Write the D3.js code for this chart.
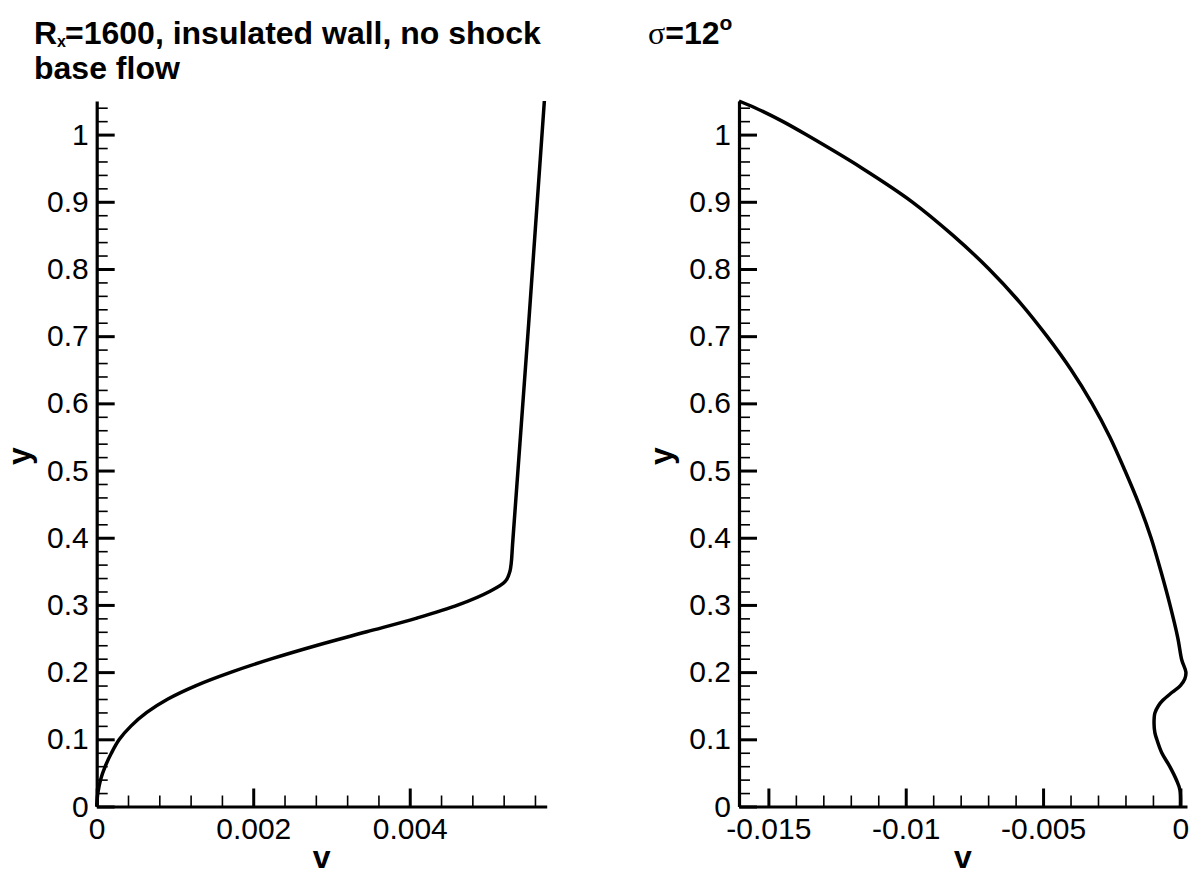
<!DOCTYPE html>
<html>
<head>
<meta charset="utf-8">
<script src="https://cdn.jsdelivr.net/npm/d3@7"></script>
<style>
  html, body { margin: 0; padding: 0; background: #fff; }
  svg { display: block; }
  text { font-family: "Liberation Sans", Arial, Helvetica, sans-serif; fill: #000; }
</style>
</head>
<body>
<script>
// ---- Data ----
const leftV = [0, 0.000005, 0.000015, 0.00005, 0.00011, 0.00019, 0.00029, 0.00044, 0.00064, 0.00091, 0.00127, 0.00172, 0.00224, 0.00282, 0.00345, 0.00408, 0.00462, 0.00502, 0.00522, 0.00528, 0.00532, 0.00572];
const leftY = [0, 0.01, 0.02, 0.04, 0.06, 0.08, 0.10, 0.12, 0.14, 0.16, 0.18, 0.20, 0.22, 0.24, 0.26, 0.28, 0.30, 0.32, 0.335, 0.35, 0.40, 1.05];

const rightV = [-0.01607, -0.01549, -0.01450, -0.01363, -0.01159, -0.00977, -0.00828, -0.00697, -0.00584, -0.00486, -0.00398, -0.00322, -0.00257, -0.00202, -0.00151, -0.00107, -0.00071, -0.00038, -0.00009, 0.00005, 0.00020, 0.00016, 0.00000, -0.00030, -0.00064, -0.00080, -0.00093, -0.00096, -0.00093, -0.00086, -0.00068, -0.00038, -0.00014, -0.00002, 0];
const rightY = [1.05, 1.04, 1.02, 1.00, 0.95, 0.90, 0.85, 0.80, 0.75, 0.70, 0.65, 0.60, 0.55, 0.50, 0.45, 0.40, 0.35, 0.30, 0.25, 0.218, 0.20, 0.19, 0.18, 0.17, 0.158, 0.15, 0.139, 0.124, 0.11, 0.10, 0.08, 0.059, 0.039, 0.025, 0];

const yTicks = [0, 0.1, 0.2, 0.3, 0.4, 0.5, 0.6, 0.7, 0.8, 0.9, 1];
const yTickLabels = ["0", "0.1", "0.2", "0.3", "0.4", "0.5", "0.6", "0.7", "0.8", "0.9", "1"];
const yMinorTicks = [0.02, 0.04, 0.06, 0.08, 0.12, 0.14, 0.16, 0.18, 0.22, 0.24, 0.26, 0.28, 0.32, 0.34, 0.36, 0.38, 0.42, 0.44, 0.46, 0.48, 0.52, 0.54, 0.56, 0.58, 0.62, 0.64, 0.66, 0.68, 0.72, 0.74, 0.76, 0.78, 0.82, 0.84, 0.86, 0.88, 0.92, 0.94, 0.96, 0.98, 1.02, 1.04];

const leftXTicks = [0, 0.002, 0.004];
const leftXTickLabels = ["0", "0.002", "0.004"];
const leftXMinorTicks = [0.0004, 0.0008, 0.0012, 0.0016, 0.0024, 0.0028, 0.0032, 0.0036, 0.0044, 0.0048, 0.0052, 0.0056];

const rightXTicks = [-0.015, -0.01, -0.005, 0];
const rightXTickLabels = ["-0.015", "-0.01", "-0.005", "0"];
const rightXMinorTicks = [-0.014, -0.013, -0.012, -0.011, -0.009, -0.008, -0.007, -0.006, -0.004, -0.003, -0.002, -0.001];

// ---- Drawing ----
const W = 1196, H = 874;
const svg = d3.select("body").append("svg").attr("width", W).attr("height", H);

const y = d3.scaleLinear().domain([0, 1.05]).range([806.5, 101]);

function panel(opts) {
  const x = d3.scaleLinear().domain(opts.xDomain).range(opts.xRange);
  const g = svg.append("g");
  const x0 = opts.xRange[0], y0 = y.range()[0];

  g.append("g").attr("transform", `translate(${x0},0)`)
    .call(d3.axisLeft(y).tickValues(yMinorTicks).tickSize(-11).tickFormat(""))
    .call(s => s.select(".domain").remove())
    .call(s => s.selectAll("line").attr("stroke", "#000").attr("stroke-width", 1.6));
  g.append("g").attr("transform", `translate(0,${y0})`)
    .call(d3.axisBottom(x).tickValues(opts.xMinor).tickSize(-11).tickFormat(""))
    .call(s => s.select(".domain").remove())
    .call(s => s.selectAll("line").attr("stroke", "#000").attr("stroke-width", 1.6));

  g.append("g").attr("transform", `translate(${x0},0)`)
    .call(d3.axisLeft(y).tickValues(yTicks).tickSizeInner(-18).tickSizeOuter(0).tickPadding(8)
      .tickFormat((d, i) => yTickLabels[i]))
    .call(s => s.select(".domain").attr("stroke", "#000").attr("stroke-width", 3.2))
    .call(s => s.selectAll(".tick line").attr("stroke", "#000").attr("stroke-width", 3))
    .call(s => s.selectAll("text").style("font-size", "30px").attr("font-family", "Liberation Sans, Arial, sans-serif").attr("fill", "#000"));
  g.append("g").attr("transform", `translate(0,${y0})`)
    .call(d3.axisBottom(x).tickValues(opts.xTicks).tickSizeInner(-18).tickSizeOuter(0).tickPadding(11)
      .tickFormat((d, i) => opts.xLabels[i]))
    .call(s => s.select(".domain").attr("stroke", "#000").attr("stroke-width", 3.2))
    .call(s => s.selectAll(".tick line").attr("stroke", "#000").attr("stroke-width", 3))
    .call(s => s.selectAll("text").style("font-size", "30px").attr("font-family", "Liberation Sans, Arial, sans-serif").attr("fill", "#000"));

  const pts = opts.v.map((v, i) => [v, opts.yv[i]]);
  g.append("path").datum(pts)
    .attr("fill", "none").attr("stroke", "#000").attr("stroke-width", 3.5)
    .attr("stroke-linejoin", "round")
    .attr("d", d3.line().x(d => x(d[0])).y(d => y(d[1])).curve(d3.curveCatmullRom.alpha(0.5)));

  g.append("text").attr("x", (opts.xRange[0] + opts.xRange[1]) / 2).attr("y", 868)
    .attr("text-anchor", "middle").style("font-size", "32px").style("font-weight", "bold").text("v");
  g.append("text").attr("transform", `translate(${opts.yLabelX},456) rotate(-90)`)
    .attr("text-anchor", "middle").style("font-size", "32px").style("font-weight", "bold").text("y");
}

panel({ xDomain: [0, 0.00575], xRange: [96.7, 546.7], xTicks: leftXTicks, xLabels: leftXTickLabels, xMinor: leftXMinorTicks, v: leftV, yv: leftY, yLabelX: 30 });
panel({ xDomain: [-0.01607, 0.00024], xRange: [739, 1187], xTicks: rightXTicks, xLabels: rightXTickLabels, xMinor: rightXMinorTicks, v: rightV, yv: rightY, yLabelX: 672 });

const t1 = svg.append("text").attr("x", 34).attr("y", 44).style("font-size", "32px").style("font-weight", "bold");
t1.append("tspan").text("R");
t1.append("tspan").attr("dy", 3).style("font-size", "16px").text("x");
t1.append("tspan").attr("dy", -3).attr("dx", -1).text("=1600, insulated wall, no shock");
svg.append("text").attr("x", 34).attr("y", 79).style("font-size", "32px").style("font-weight", "bold").text("base flow");

const t2 = svg.append("text").attr("x", 648).attr("y", 44).style("font-size", "32px").style("font-weight", "bold");
t2.append("tspan").style("font-family", "Liberation Serif, Times New Roman, serif").style("font-weight", "normal").text("σ");
t2.append("tspan").text("=12");
t2.append("tspan").attr("dy", -14).style("font-size", "21px").text("o");
</script>
</body>
</html>
